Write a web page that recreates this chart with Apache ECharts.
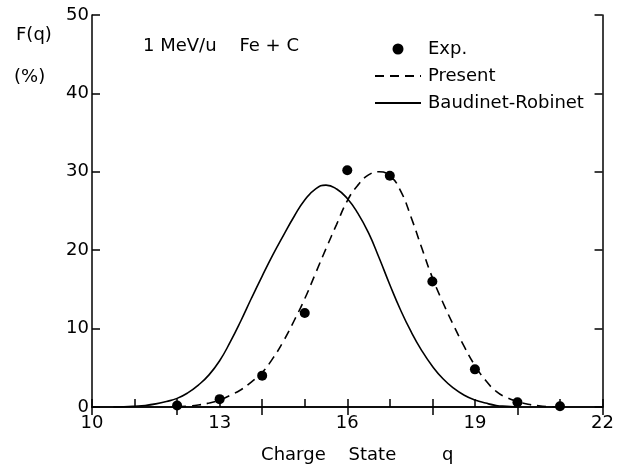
<!DOCTYPE html>
<html>
<head>
<meta charset="utf-8">
<script src="https://cdn.jsdelivr.net/npm/echarts@6/dist/echarts.min.js"></script>
<style>
  html, body { margin: 0; padding: 0; background: #fff; }
  #chart { width: 617px; height: 469px; }
</style>
</head>
<body>
<div id="chart"></div>
<script>
// Measured charge-state fractions
const expQ = [12, 13, 14, 15, 16, 17, 18, 19, 20, 21];
const expF = [0.2, 1.0, 4.0, 12.0, 30.2, 29.5, 16.0, 4.8, 0.6, 0.1];

// Present calculation (dashed), read every 0.25
const presentQ = [12, 12.25, 12.5, 12.75, 13, 13.25, 13.5, 13.75, 14, 14.25, 14.5, 14.75, 15, 15.25, 15.5, 15.75,
                  16, 16.25, 16.5, 16.75, 17, 17.25, 17.5, 17.75, 18, 18.25, 18.5, 18.75, 19, 19.25, 19.5, 19.75,
                  20, 20.25, 20.5, 20.75, 21];
const presentF = [0, 0.1, 0.25, 0.5, 0.9, 1.5, 2.2, 3.2, 4.4, 6.2, 8.4, 11.0, 13.8, 17.0, 20.2, 23.3,
                  26.3, 28.3, 29.6, 30.0, 29.5, 27.6, 24.2, 20.3, 16.5, 13.3, 10.4, 7.7, 5.3, 3.4, 2.0, 1.2,
                  0.7, 0.35, 0.15, 0.05, 0];

// Baudinet-Robinet (solid), read every 0.25
const brQ = [10.5, 10.75, 11, 11.25, 11.5, 11.75, 12, 12.25, 12.5, 12.75, 13, 13.25, 13.5, 13.75, 14, 14.25,
             14.5, 14.75, 15, 15.25, 15.5, 15.75, 16, 16.25, 16.5, 16.75, 17, 17.25, 17.5, 17.75, 18, 18.25,
             18.5, 18.75, 19, 19.25, 19.5, 19.75, 20];
const brF = [0, 0.03, 0.1, 0.2, 0.4, 0.7, 1.1, 1.8, 2.8, 4.1, 5.9, 8.3, 11.0, 13.9, 16.7, 19.4,
             21.9, 24.3, 26.4, 27.8, 28.3, 27.8, 26.6, 24.7, 22.2, 19.0, 15.6, 12.4, 9.6, 7.2, 5.2, 3.6,
             2.4, 1.5, 0.9, 0.5, 0.2, 0.1, 0];

const xLabels = [10, 13, 16, 19, 22];

const font = 'DejaVu Sans';
const fs = 18;
const pair = (xs, ys) => xs.map((x, i) => [x, ys[i]]);

let chart = echarts.init(document.getElementById('chart'));

let lineBlack = { color: '#000', width: 1.5 };

let option = {
    animation: false,
    textStyle: { fontFamily: font, color: '#000' },
    grid: { left: 92, right: 13, top: 15, bottom: 60 },
    legend: {
        orient: 'vertical',
        left: 369,
        top: 35,
        itemWidth: 46,
        itemHeight: 11,
        itemGap: 9,
        textStyle: { fontFamily: font, fontSize: fs, color: '#000', padding: [0, 0, 0, 2] },
        data: [
            { name: 'Exp.', icon: 'circle' },
            { name: 'Present', itemStyle: { opacity: 0 } },
            { name: 'Baudinet-Robinet', itemStyle: { opacity: 0 } }
        ]
    },
    xAxis: [
        {
            type: 'value', position: 'bottom', min: 10, max: 22, interval: 1,
            axisLine: { lineStyle: lineBlack },
            axisTick: { inside: true, length: 8, lineStyle: lineBlack },
            splitLine: { show: false },
            axisLabel: {
                fontFamily: font, fontSize: fs, color: '#000', margin: 7,
                formatter: v => xLabels.includes(v) ? String(v) : ''
            },
            name: 'Charge    State        q',
            nameLocation: 'middle',
            nameGap: 39,
            nameTextStyle: { fontFamily: font, fontSize: fs, color: '#000', padding: [0, 0, 0, 20] }
        },
        {
            type: 'value', position: 'top', min: 10, max: 22, interval: 2,
            axisLine: { lineStyle: lineBlack },
            axisTick: { inside: true, length: 8, lineStyle: lineBlack },
            splitLine: { show: false },
            axisLabel: { show: false }
        }
    ],
    yAxis: [
        {
            type: 'value', position: 'left', min: 0, max: 50, interval: 10,
            axisLine: { show: true, lineStyle: lineBlack },
            axisTick: { show: true, inside: true, length: 8, lineStyle: lineBlack },
            splitLine: { show: false },
            axisLabel: { fontFamily: font, fontSize: fs, color: '#000', margin: 3 }
        },
        {
            type: 'value', position: 'right', min: 0, max: 50, interval: 10,
            axisLine: { show: true, lineStyle: lineBlack },
            axisTick: { show: true, inside: true, length: 8, lineStyle: lineBlack },
            splitLine: { show: false },
            axisLabel: { show: false }
        }
    ],
    graphic: [
        { type: 'text', left: 16, top: 26, style: { text: 'F(q)', font: fs + 'px "DejaVu Sans"', fill: '#000' } },
        { type: 'text', left: 14, top: 68, style: { text: '(%)', font: fs + 'px "DejaVu Sans"', fill: '#000' } },
        { type: 'text', left: 143, top: 37, style: { text: '1 MeV/u    Fe + C', font: fs + 'px "DejaVu Sans"', fill: '#000' } }
    ],
    series: [
        {
            name: 'Exp.',
            type: 'scatter',
            data: pair(expQ, expF),
            symbol: 'circle',
            symbolSize: 10,
            itemStyle: { color: '#000', opacity: 1 },
            z: 5
        },
        {
            name: 'Present',
            type: 'line',
            data: pair(presentQ, presentF),
            smooth: true,
            showSymbol: false,
            symbol: 'none',
            lineStyle: { color: '#000', width: 1.6, type: [9, 6] },
            itemStyle: { color: '#000' }
        },
        {
            name: 'Baudinet-Robinet',
            type: 'line',
            data: pair(brQ, brF),
            smooth: true,
            showSymbol: false,
            symbol: 'none',
            lineStyle: { color: '#000', width: 1.6 },
            itemStyle: { color: '#000' }
        }
    ]
};

chart.setOption(option);
</script>
</body>
</html>
